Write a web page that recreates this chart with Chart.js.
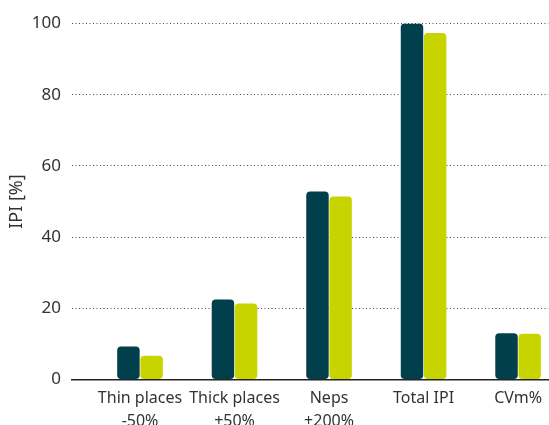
<!DOCTYPE html>
<html>
<head>
<meta charset="utf-8">
<script src="https://cdn.jsdelivr.net/npm/chart.js@4"></script>
<style>
  html, body { margin: 0; padding: 0; background: #fff; overflow: hidden; }
  #wrap { width: 549px; height: 440px; position: relative; }
</style>
</head>
<body>
<div id="wrap"><canvas id="chart1"></canvas></div>
<script>
// categories and values
var categories = [['Thin places', '-50%'], ['Thick places', '+50%'], ['Neps', '+200%'], ['Total IPI'], ['CVm%']];
var seriesA = [9.3, 22.5, 52.8, 100, 13.0];
var seriesB = [6.7, 21.4, 51.4, 97.3, 12.9];
var yTicks = [0, 20, 40, 60, 80, 100];

var darkTeal = '#003f4b';
var lime = '#c8d400';
var labelFont = "'Noto Sans', sans-serif";

function toPoints(vals) {
  return vals.map(function (v, i) { return { x: i, y: v }; });
}

var ctx = document.getElementById('chart1');
var chartUpdate = new Chart(ctx, {
  type: 'bar',
  data: {
    datasets: [{
      label: 'Series 1',
      data: toPoints(seriesA),
      backgroundColor: darkTeal,
      borderRadius: 4,
      borderSkipped: false
    }, {
      label: 'Series 2',
      data: toPoints(seriesB),
      backgroundColor: lime,
      borderRadius: 4,
      borderSkipped: false
    }]
  },
  options: {
    responsive: true,
    maintainAspectRatio: false,
    animation: false,
    layout: { padding: { top: 23.5, right: 0, bottom: 0, left: 0 } },
    plugins: { legend: { display: false }, tooltip: { enabled: false } },
    datasets: { bar: { categoryPercentage: 0.49, barPercentage: 0.97 } },
    scales: {
      x: {
        type: 'linear',
        offset: false,
        min: -0.7195,
        max: 4.32,
        grid: { display: false, drawTicks: false },
        border: { display: true, color: '#222', width: 1.5 },
        afterBuildTicks: function (s) {
          s.ticks = categories.map(function (c, i) { return { value: i }; });
        },
        ticks: {
          autoSkip: false,
          maxRotation: 0,
          padding: 7,
          color: '#333',
          font: { family: labelFont, size: 16, lineHeight: 1.45 },
          callback: function (v) { return categories[v]; }
        }
      },
      y: {
        min: 0,
        max: 100,
        afterFit: function (s) { s.width = 72; },
        afterBuildTicks: function (s) {
          s.ticks = yTicks.map(function (t) { return { value: t }; });
        },
        grid: { color: '#444', lineWidth: 1, drawTicks: false },
        border: { display: false, dash: [1, 2.5] },
        ticks: {
          padding: 11,
          color: '#333',
          font: { family: labelFont, size: 17 }
        },
        title: {
          display: true,
          text: 'IPI [%]',
          color: '#333',
          padding: { top: 6, bottom: 0 },
          font: { family: labelFont, size: 18 }
        }
      }
    }
  }
});
</script>
</body>
</html>
